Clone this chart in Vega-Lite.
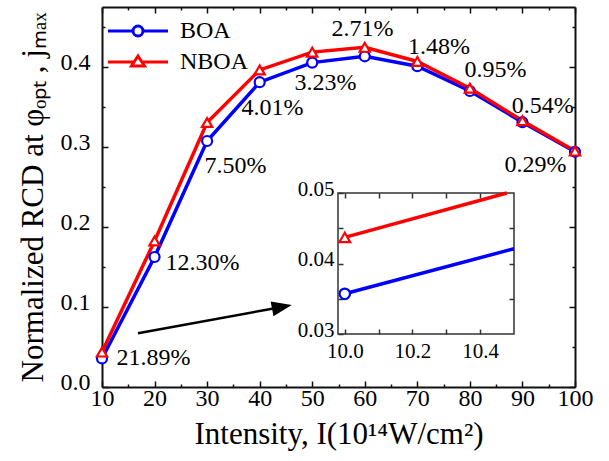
{
  "$schema": "https://vega.github.io/schema/vega-lite/v6.json",
  "width": 473,
  "height": 380,
  "autosize": {"type": "none"},
  "padding": {"left": 102, "top": 7, "right": 34, "bottom": 74},
  "background": "white",
  "config": {
    "view": {"stroke": null},
    "font": "Liberation Serif",
    "axis": {
      "grid": false,
      "domainColor": "#111",
      "domainWidth": 2,
      "tickColor": "#111",
      "tickWidth": 1.5,
      "labelFont": "Liberation Serif",
      "labelFontSize": 24,
      "labelColor": "#000",
      "labelFlush": false,
      "labelOverlap": false,
      "labelBound": false,
      "titleFont": "Liberation Serif",
      "titleFontSize": 31,
      "titleFontWeight": "normal",
      "titleColor": "#000"
    },
    "legend": {
      "orient": "none",
      "legendX": -1,
      "legendY": 12,
      "title": null,
      "padding": 0,
      "labelFont": "Liberation Serif",
      "labelFontSize": 24,
      "labelColor": "#000",
      "symbolSize": 100,
      "symbolStrokeWidth": 3,
      "labelOffset": 55,
      "rowPadding": 7
    }
  },
  "datasets": {
    "main": [
      {"I": 10, "v": 0.0357, "series": "BOA"},
      {"I": 20, "v": 0.1625, "series": "BOA"},
      {"I": 30, "v": 0.3075, "series": "BOA"},
      {"I": 40, "v": 0.381, "series": "BOA"},
      {"I": 50, "v": 0.4055, "series": "BOA"},
      {"I": 60, "v": 0.4134, "series": "BOA"},
      {"I": 70, "v": 0.401, "series": "BOA"},
      {"I": 80, "v": 0.37, "series": "BOA"},
      {"I": 90, "v": 0.331, "series": "BOA"},
      {"I": 100, "v": 0.294, "series": "BOA"},
      {"I": 10, "v": 0.0437, "series": "NBOA"},
      {"I": 20, "v": 0.1825, "series": "NBOA"},
      {"I": 30, "v": 0.3306, "series": "NBOA"},
      {"I": 40, "v": 0.3963, "series": "NBOA"},
      {"I": 50, "v": 0.4186, "series": "NBOA"},
      {"I": 60, "v": 0.4246, "series": "NBOA"},
      {"I": 70, "v": 0.4069, "series": "NBOA"},
      {"I": 80, "v": 0.3735, "series": "NBOA"},
      {"I": 90, "v": 0.3328, "series": "NBOA"},
      {"I": 100, "v": 0.2949, "series": "NBOA"}
    ],
    "labels": [
      {"lx": 19.8, "ly": 0.0362, "label": "21.89%"},
      {"lx": 29.12, "ly": 0.1554, "label": "12.30%"},
      {"lx": 35.4, "ly": 0.2766, "label": "7.50%"},
      {"lx": 42.44, "ly": 0.3488, "label": "4.01%"},
      {"lx": 52.53, "ly": 0.38, "label": "3.23%"},
      {"lx": 59.57, "ly": 0.4475, "label": "2.71%"},
      {"lx": 74.12, "ly": 0.425, "label": "1.48%"},
      {"lx": 84.87, "ly": 0.3962, "label": "0.95%"},
      {"lx": 93.87, "ly": 0.3512, "label": "0.54%"},
      {"lx": 92.48, "ly": 0.2775, "label": "0.29%"}
    ],
    "arrow": [{"x": 16.85, "y": 0.0671, "x2": 44.23, "y2": 0.1001}],
    "inset": [
      {"I": 10, "v": 0.0357, "series": "BOA"},
      {"I": 10.5, "v": 0.0421, "series": "BOA"},
      {"I": 10, "v": 0.0437, "series": "NBOA"},
      {"I": 10.479, "v": 0.05, "series": "NBOA"}
    ],
    "frame": [{"x": 9.98, "x2": 10.5, "y": 0.03, "y2": 0.05}]
  },
  "layer": [
    {
      "layer": [
        {
          "data": {"name": "main"},
          "mark": {"type": "line", "strokeWidth": 3.5},
          "encoding": {
            "x": {"field": "I", "type": "quantitative",
              "scale": {"domain": [10, 100], "nice": false, "zero": false},
              "axis": {"orient": "bottom", "values": [10, 20, 30, 40, 50, 60, 70, 80, 90, 100], "tickSize": -6, "labelPadding": 5, "title": "Intensity, I(10¹⁴W/cm²)", "titlePadding": 9}},
            "y": {"field": "v", "type": "quantitative",
              "scale": {"domain": [0, 0.475], "nice": false, "zero": false},
              "axis": {"orient": "left", "values": [0, 0.1, 0.2, 0.3, 0.4], "format": ".1f", "tickSize": -6, "labelPadding": 18, "labelOffset": -5, "title": "Normalized RCD at φₒₚₜ , jₘₐₓ", "titlePadding": 11}},
            "color": {"field": "series", "type": "nominal",
              "scale": {"domain": ["BOA", "NBOA"], "range": ["#0000ff", "#ff0000"]},
              "legend": {"title": null}}
          }
        },
        {
          "data": {"name": "main"},
          "transform": [{"filter": "datum.series == 'BOA'"}],
          "mark": {"type": "point", "shape": "circle", "filled": false, "fill": "white", "fillOpacity": 1, "opacity": 1, "strokeWidth": 2.2, "size": 100},
          "encoding": {
            "x": {"field": "I", "type": "quantitative",
              "scale": {"domain": [10, 100], "nice": false, "zero": false},
              "axis": {"orient": "top", "values": [10, 20, 30, 40, 50, 60, 70, 80, 90, 100], "tickSize": -6, "labels": false, "title": null}},
            "y": {"field": "v", "type": "quantitative",
              "scale": {"domain": [0, 0.475], "nice": false, "zero": false},
              "axis": {"orient": "right", "values": [0, 0.1, 0.2, 0.3, 0.4], "tickSize": -6, "labels": false, "title": null}},
            "color": {"field": "series", "type": "nominal"}
          }
        },
        {
          "data": {"name": "main"},
          "transform": [{"filter": "datum.series == 'NBOA'"}],
          "mark": {"type": "point", "shape": "triangle-up", "filled": false, "fill": "white", "fillOpacity": 1, "opacity": 1, "strokeWidth": 2.2, "size": 105},
          "encoding": {
            "x": {"field": "I", "type": "quantitative", "scale": {"domain": [10, 100], "nice": false, "zero": false}, "axis": null},
            "y": {"field": "v", "type": "quantitative", "scale": {"domain": [0, 0.475], "nice": false, "zero": false}, "axis": null},
            "color": {"field": "series", "type": "nominal"}
          }
        },
        {
          "data": {"name": "main"},
          "transform": [{"filter": "datum.I < 0"}],
          "mark": {"type": "point", "filled": false, "strokeWidth": 3, "opacity": 1},
          "encoding": {
            "x": {"field": "I", "type": "quantitative", "scale": {"domain": [10, 100], "nice": false, "zero": false}, "axis": null},
            "y": {"field": "v", "type": "quantitative", "scale": {"domain": [0, 0.475], "nice": false, "zero": false}, "axis": null},
            "color": {"field": "series", "type": "nominal"},
            "shape": {"field": "series", "type": "nominal",
              "scale": {"domain": ["BOA", "NBOA"], "range": ["M-1,0L4,0M6,0L11,0M4,0A1,1,0,1,0,6,0A1,1,0,1,0,4,0Z", "M-1,0L4.22,0M5.78,0L11,0M5,-1.2L6.3,0.8L3.7,0.8Z"]},
              "legend": {"title": null}}
          }
        },
        {
          "data": {"name": "labels"},
          "mark": {"type": "text", "fontSize": 24, "font": "Liberation Serif", "align": "center", "baseline": "middle", "color": "#000"},
          "encoding": {
            "x": {"field": "lx", "type": "quantitative",
              "scale": {"domain": [10, 100], "nice": false, "zero": false},
              "axis": {"orient": "bottom", "values": [15, 25, 35, 45, 55, 65, 75, 85, 95], "tickSize": -3, "labels": false, "domain": false, "title": null}},
            "y": {"field": "ly", "type": "quantitative",
              "scale": {"domain": [0, 0.475], "nice": false, "zero": false},
              "axis": {"orient": "left", "values": [0.05, 0.15, 0.25, 0.35, 0.45], "tickSize": -3, "labels": false, "domain": false, "title": null}},
            "text": {"field": "label"}
          }
        },
        {
          "data": {"name": "arrow"},
          "mark": {"type": "rule", "strokeWidth": 2.5, "color": "#000"},
          "encoding": {
            "x": {"field": "x", "type": "quantitative",
              "scale": {"domain": [10, 100], "nice": false, "zero": false},
              "axis": {"orient": "top", "values": [15, 25, 35, 45, 55, 65, 75, 85, 95], "tickSize": -3, "labels": false, "domain": false, "title": null}},
            "y": {"field": "y", "type": "quantitative",
              "scale": {"domain": [0, 0.475], "nice": false, "zero": false},
              "axis": {"orient": "right", "values": [0.05, 0.15, 0.25, 0.35, 0.45], "tickSize": -3, "labels": false, "domain": false, "title": null}},
            "x2": {"field": "x2"},
            "y2": {"field": "y2"}
          }
        },
        {
          "data": {"name": "arrow"},
          "mark": {"type": "point", "shape": "M-1,-0.75L1,0L-1,0.75Z", "size": 400, "filled": true, "color": "#000", "opacity": 1, "angle": -10.8},
          "encoding": {
            "x": {"field": "x2", "type": "quantitative", "scale": {"domain": [10, 100], "nice": false, "zero": false}, "axis": null},
            "y": {"field": "y2", "type": "quantitative", "scale": {"domain": [0, 0.475], "nice": false, "zero": false}, "axis": null}
          }
        }
      ],
      "resolve": {"axis": {"x": "independent", "y": "independent"}}
    },
    {
      "layer": [
        {
          "data": {"name": "frame"},
          "mark": {"type": "rect", "fill": "white", "fillOpacity": 0, "stroke": "#333", "strokeWidth": 1.5},
          "encoding": {
            "x": {"field": "x", "type": "quantitative",
              "scale": {"domain": [9.98, 10.5], "range": [236, 412], "nice": false, "zero": false},
              "axis": {"orient": "bottom", "offset": -53, "values": [10.0, 10.2, 10.4], "format": ".1f", "tickSize": -5, "tickColor": "#333", "labelPadding": 11, "labelFontSize": 21, "title": null, "domain": false}},
            "x2": {"field": "x2"},
            "y": {"field": "y", "type": "quantitative",
              "scale": {"domain": [0.03, 0.05], "range": [327, 186], "nice": false, "zero": false},
              "axis": {"orient": "left", "offset": -236, "values": [0.03, 0.04, 0.05], "format": ".2f", "tickSize": -5, "tickColor": "#333", "labelPadding": 9, "labelOffset": -4, "labelFontSize": 21, "title": null, "domain": false}},
            "y2": {"field": "y2"}
          }
        },
        {
          "data": {"name": "inset"},
          "mark": {"type": "line", "strokeWidth": 3.5},
          "encoding": {
            "x": {"field": "I", "type": "quantitative",
              "scale": {"domain": [9.98, 10.5], "range": [236, 412], "nice": false, "zero": false},
              "axis": {"orient": "bottom", "offset": -53, "values": [10.1, 10.3], "tickSize": -5, "tickColor": "#333", "labels": false, "title": null, "domain": false}},
            "y": {"field": "v", "type": "quantitative",
              "scale": {"domain": [0.03, 0.05], "range": [327, 186], "nice": false, "zero": false},
              "axis": {"orient": "left", "offset": -236, "values": [0.035, 0.045], "tickSize": -5, "tickColor": "#333", "labels": false, "title": null, "domain": false}},
            "color": {"field": "series", "type": "nominal"}
          }
        },
        {
          "data": {"name": "inset"},
          "transform": [{"filter": "datum.I == 10 && datum.series == 'BOA'"}],
          "mark": {"type": "point", "shape": "circle", "filled": false, "fill": "white", "fillOpacity": 1, "opacity": 1, "strokeWidth": 2.2, "size": 110},
          "encoding": {
            "x": {"field": "I", "type": "quantitative",
              "scale": {"domain": [9.98, 10.5], "range": [236, 412], "nice": false, "zero": false},
              "axis": {"orient": "top", "offset": -186, "values": [10.0, 10.1, 10.2, 10.3, 10.4], "tickSize": -5, "tickColor": "#333", "labels": false, "title": null, "domain": false}},
            "y": {"field": "v", "type": "quantitative",
              "scale": {"domain": [0.03, 0.05], "range": [327, 186], "nice": false, "zero": false},
              "axis": {"orient": "right", "offset": -61, "values": [0.035, 0.04, 0.045], "tickSize": -5, "tickColor": "#333", "labels": false, "title": null, "domain": false}},
            "color": {"field": "series", "type": "nominal"}
          }
        },
        {
          "data": {"name": "inset"},
          "transform": [{"filter": "datum.I == 10 && datum.series == 'NBOA'"}],
          "mark": {"type": "point", "shape": "triangle-up", "filled": false, "fill": "white", "fillOpacity": 1, "opacity": 1, "strokeWidth": 2.2, "size": 115},
          "encoding": {
            "x": {"field": "I", "type": "quantitative", "scale": {"domain": [9.98, 10.5], "range": [236, 412], "nice": false, "zero": false}, "axis": null},
            "y": {"field": "v", "type": "quantitative", "scale": {"domain": [0.03, 0.05], "range": [327, 186], "nice": false, "zero": false}, "axis": null},
            "color": {"field": "series", "type": "nominal"}
          }
        }
      ],
      "resolve": {"axis": {"x": "independent", "y": "independent"}}
    }
  ],
  "resolve": {"scale": {"x": "independent", "y": "independent"}}
}
